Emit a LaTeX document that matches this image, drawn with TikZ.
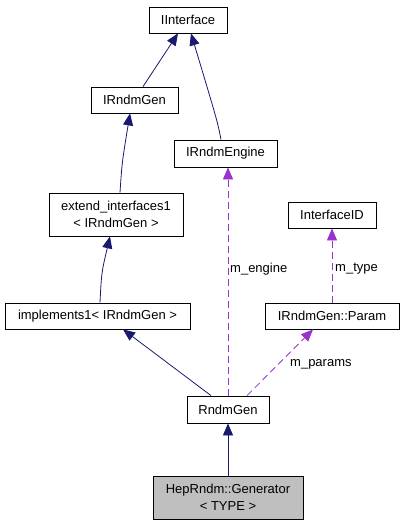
\documentclass[tikz,border=0pt]{standalone}
\usepackage{fontspec}
\setmainfont{Liberation Sans}
\usetikzlibrary{arrows.meta}
\definecolor{navy}{HTML}{191970}
\definecolor{orchid}{HTML}{9A32CD}
\definecolor{grayfill}{HTML}{BFBFBF}
\tikzset{
  cls/.style={draw=black, line width=0.8pt, fill=white, inner sep=0pt, align=center,
    font=\fontsize{13}{17}\selectfont},
  inh/.style={draw=navy, line width=0.8pt, -{Triangle[length=12pt,width=10pt,fill=navy]}},
  use/.style={draw=orchid, line width=0.8pt, dash pattern=on 7pt off 4pt,
    -{Triangle[length=12pt,width=10pt,fill=orchid]}},
  lbl/.style={anchor=west, inner sep=0pt, font=\fontsize{13}{15}\selectfont}
}
\begin{document}
\begin{tikzpicture}[x=1pt,y=-1pt]
\useasboundingbox (0,0) rectangle (404,525);
\node[cls, minimum width=78pt, minimum height=26pt] (ii) at (188,20) {IInterface};
\node[cls, minimum width=87pt, minimum height=26pt] (irg) at (134.5,100) {IRndmGen};
\node[cls, minimum width=103pt, minimum height=27pt] (ire) at (225.5,153.5) {IRndmEngine};
\node[cls, minimum width=134pt, minimum height=43pt] (ext) at (116,214.5) {extend\_interfaces1\\< IRndmGen >};
\node[cls, minimum width=88pt, minimum height=26pt] (iid) at (332,215) {InterfaceID};
\node[cls, minimum width=185pt, minimum height=26pt] (imp) at (97.5,316) {implements1< IRndmGen >};
\node[cls, minimum width=134pt, minimum height=26pt] (par) at (332,316) {IRndmGen::Param};
\node[cls, minimum width=82pt, minimum height=27pt] (rg) at (228,409.5) {RndmGen};
\node[cls, fill=grayfill, minimum width=150pt, minimum height=43pt] (gen) at (228,497.5) {HepRndm::Generator\\< TYPE >};

\draw[inh] ([xshift=8.5pt]irg.north) -- ([xshift=-10pt]ii.south);
\draw[inh] ([xshift=-4.5pt]ire.north) .. controls ([xshift=-8pt,yshift=18pt]ire.north) .. ([xshift=3pt]ii.south);
\draw[inh] ([xshift=4pt]ext.north) .. controls ([xshift=6pt,yshift=30pt]ext.north) .. ([xshift=-4.5pt]irg.south);
\draw[inh] ([xshift=2.5pt]imp.north) .. controls ([xshift=4pt,yshift=30pt]imp.north) .. ([xshift=-6pt]ext.south);
\draw[inh] ([xshift=-17pt]rg.north) -- ([xshift=25.5pt]imp.south);
\draw[use] (rg.north) -- ([xshift=2.5pt]ire.south);
\draw[use] ([xshift=19pt]rg.north) -- ([xshift=-19pt]par.south);
\draw[use] (par.north) -- (iid.south);
\draw[inh] (gen.north) -- (rg.south);

\node[lbl] (lengine) at (230,269) {m\_engine};
\node[lbl] (ltype) at (335,269) {m\_type};
\node[lbl] (lparams) at (290,364) {m\_params};
\end{tikzpicture}
\end{document}
